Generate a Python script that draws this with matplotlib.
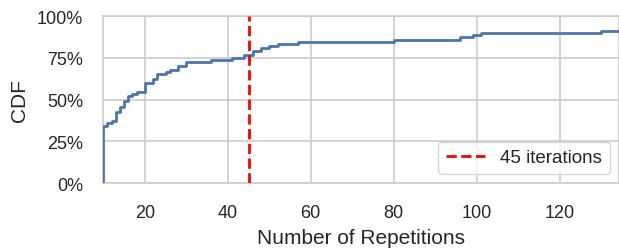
import matplotlib
matplotlib.use("Agg")
import matplotlib.pyplot as plt
import seaborn as sns
from matplotlib.ticker import PercentFormatter

# ---- data ----
repetitions = [10, 11, 12, 13, 14, 15, 16, 17, 18, 20, 22, 23, 25, 26, 28, 30,
               36, 41, 44, 46, 48, 50, 52, 57, 80, 96, 99, 101, 130]
cdf_percent = [34.3, 35.7, 37.3, 42.3, 45.7, 49.3, 52.3, 53.3, 54.3, 59.9, 62.3,
               65.3, 66.3, 67.8, 69.9, 72.3, 73.7, 74.9, 76.8, 79.2, 80.6, 82.2,
               83.4, 84.6, 85.8, 87.2, 88.6, 89.6, 90.8]
threshold = 45
threshold_label = "45 iterations"
x_ticks = [20, 40, 60, 80, 100, 120]
y_ticks = [0, 0.25, 0.5, 0.75, 1.0]
x_limits = (10, 134.3)

sns.set_style("whitegrid")
plt.rcParams["font.family"] = ["Liberation Sans", "DejaVu Sans"]
plt.rcParams["text.color"] = "#262626"
plt.rcParams["axes.labelcolor"] = "#262626"
plt.rcParams["xtick.color"] = "#262626"
plt.rcParams["ytick.color"] = "#262626"

fig = plt.figure(figsize=(6.19, 2.53), dpi=100)
ax = fig.add_axes([0.1669, 0.2727, 0.8331, 0.6601])

xs = [repetitions[0]] + repetitions + [x_limits[1] + 5]
ys = [0.0] + [v / 100 for v in cdf_percent] + [cdf_percent[-1] / 100]
ax.step(xs, ys, where="post", color="#4a76ae", lw=2.0, zorder=3)

ax.axvline(threshold, color="red", ls="--", lw=2.0, label=threshold_label, zorder=4)

ax.set_xlim(*x_limits)
ax.set_ylim(0, 1)
ax.set_xticks(x_ticks)
ax.set_yticks(y_ticks)
ax.yaxis.set_major_formatter(PercentFormatter(1.0, decimals=0))

ax.tick_params(axis="x", labelsize=13, pad=15, length=0)
ax.tick_params(axis="y", labelsize=13, pad=14.5, length=0)

ax.set_xlabel("Number of Repetitions", fontsize=15, labelpad=5)
ax.set_ylabel("CDF", fontsize=15)
ax.yaxis.set_label_coords(-0.145, 0.5)

for s in ax.spines.values():
    s.set_color("#cccccc")
    s.set_linewidth(1.2)
ax.grid(color="#cccccc", lw=1.2)

leg = ax.legend(loc="lower right", fontsize=13.5, frameon=True,
                borderaxespad=0.5, handlelength=2.1)
leg.get_frame().set_edgecolor("#cccccc")

fig.savefig("out.png", dpi=100)
